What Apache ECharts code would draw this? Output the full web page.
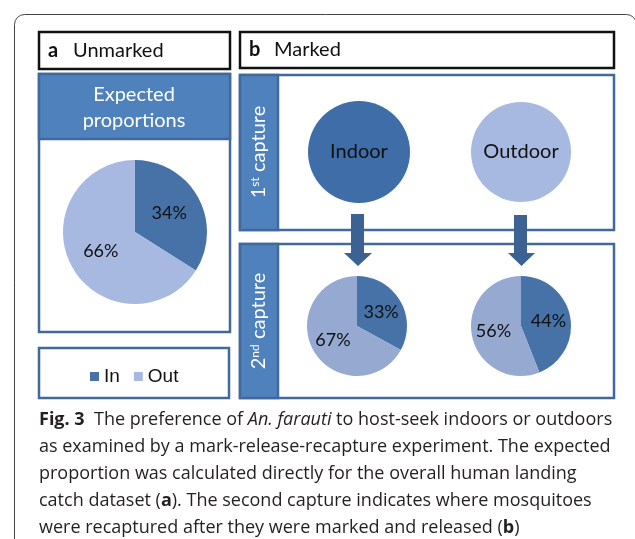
<!DOCTYPE html>
<html>
<head>
<meta charset="utf-8">
<script src="https://cdn.jsdelivr.net/npm/echarts@6/dist/echarts.min.js"></script>
<style>
  html, body { margin: 0; padding: 0; background: #fff; }
  #chart { width: 635px; height: 539px; }
</style>
</head>
<body>
<div id="chart"></div>
<script>
// data
const sliceNames = ['In', 'Out'];
const expectedValues = [34, 66];      // panel a
const recaptureIndoor = [33, 67];     // 2nd capture below Indoor
const recaptureOutdoor = [44, 56];    // 2nd capture below Outdoor
const firstCapture = ['Indoor', 'Outdoor'];

const dark = '#4672a8';
const lightA = '#a7b9e0';
const lightB = '#95a9d1';
const frameBlue = '#41699b';
const headBlue = '#4f81bd';
const arrowBlue = '#3c6193';

const chart = echarts.init(document.getElementById('chart'));

function pieData(values, light) {
  return sliceNames.map((n, i) => ({
    name: n,
    value: values[i],
    itemStyle: { color: i === 0 ? dark : light }
  }));
}

function pctPie(values, light, center, r) {
  return {
    type: 'pie',
    center: center,
    radius: [0, r],
    startAngle: 90,
    clockwise: true,
    silent: true,
    z: 5,
    itemStyle: { borderWidth: 0 },
    label: {
      show: true,
      position: 'inside',
      formatter: '{c}%',
      color: '#111',
      fontFamily: 'Lato',
      fontSize: 18
    },
    labelLine: { show: false },
    data: pieData(values, light)
  };
}

function circle(name, color, center, r) {
  return {
    type: 'pie',
    center: center,
    radius: [0, r],
    silent: true,
    z: 5,
    label: {
      show: true,
      position: 'center',
      formatter: '{b}',
      color: '#111',
      fontFamily: 'Lato',
      fontSize: 20
    },
    labelLine: { show: false },
    data: [{ name: name, value: 1, itemStyle: { color: color } }]
  };
}

function box(x1, y1, x2, y2, fill, stroke, lw, z) {
  return {
    type: 'rect', z: z || 1,
    shape: { x: x1, y: y1, width: x2 - x1, height: y2 - y1 },
    style: { fill: fill, stroke: stroke, lineWidth: lw }
  };
}

function txt(text, x, y, size, opts) {
  return Object.assign({
    type: 'text', z: 10,
    style: Object.assign({
      text: text, x: x, y: y,
      fontFamily: 'Lato', fontSize: size,
      fill: '#111', align: 'left', verticalAlign: 'middle'
    }, opts || {})
  });
}

function arrow(x1, x2, hx1, hx2, yTop, yHead, yTip) {
  const mid = (hx1 + hx2) / 2;
  return {
    type: 'polygon', z: 12,
    shape: { points: [[x1, yTop], [x2, yTop], [x2, yHead], [hx2, yHead], [mid, yTip], [hx1, yHead], [x1, yHead]] },
    style: { fill: arrowBlue }
  };
}

function sideLabel(num, sup, cx, cy) {
  return {
    type: 'text', z: 10,
    x: cx, y: cy, rotation: Math.PI / 2,
    style: {
      text: '{n|' + num + '}{s|' + sup + '}{n| capture}',
      align: 'center', verticalAlign: 'middle',
      rich: {
        n: { fontFamily: 'Lato', fontSize: 20, fill: '#fff', verticalAlign: 'bottom' },
        s: { fontFamily: 'Lato', fontSize: 12, fill: '#fff', verticalAlign: 'top', padding: [0, 0, 8, 0] }
      }
    }
  };
}

// caption, line by line
const capFont = { fontFamily: 'Open Sans', fontSize: 18, fill: '#231f20' };
const capRich = {
  r: Object.assign({}, capFont),
  b: Object.assign({ fontWeight: 'bold' }, capFont),
  i: Object.assign({ fontStyle: 'italic' }, capFont)
};
const captionLines = [
  '{b|Fig. 3}{r|  The preference of }{i|An. farauti}{r| to host-seek indoors or outdoors}',
  '{r|as examined by a mark-release-recapture experiment. The expected}',
  '{r|proportion was calculated directly for the overall human landing}',
  '{r|catch dataset (}{b|a}{r|). The second capture indicates where mosquitoes}',
  '{r|were recaptured after they were marked and released (}{b|b}{r|)}'
];
const captionY = [420, 447, 474, 501, 528];

const graphics = [
  // outer frame
  { type: 'rect', z: 0, shape: { x: 14.5, y: 14.5, width: 622, height: 600, r: 10 },
    style: { fill: 'none', stroke: '#444', lineWidth: 1 } },
  // title boxes
  box(39, 32, 230, 69, '#fff', '#111', 2.5),
  box(240, 32, 614, 68, '#fff', '#111', 2.5),
  txt('a', 48, 51, 20, { fontWeight: 'bold' }),
  txt('Unmarked', 73, 51, 20),
  txt('b', 249, 50, 20, { fontWeight: 'bold' }),
  txt('Marked', 274, 50, 20),
  // panel a
  box(39, 74, 230, 332, '#fff', frameBlue, 2.5),
  box(39, 74, 230, 139, headBlue, frameBlue, 2.5, 2),
  txt('Expected', 134, 95, 20, { fill: '#fff', align: 'center' }),
  txt('proportions', 134, 121, 20, { fill: '#fff', align: 'center' }),
  // legend box
  box(39, 348, 229, 398, '#fff', frameBlue, 2.5),
  // panel b, 1st capture
  box(240, 75, 614, 230, '#fff', frameBlue, 2.5),
  box(240, 75, 278, 230, headBlue, frameBlue, 2.5, 2),
  sideLabel('1', 'st', 259, 152),
  // panel b, 2nd capture
  box(240, 244, 614, 398, '#fff', frameBlue, 2.5),
  box(240, 244, 278, 398, headBlue, frameBlue, 2.5, 2),
  sideLabel('2', 'nd', 259, 321),
  // arrows
  arrow(351, 364, 344, 372, 214, 253, 266),
  arrow(514, 527, 508, 535, 215, 253, 266)
];

captionLines.forEach((line, k) => {
  graphics.push({
    type: 'text', z: 10,
    style: { text: line, x: 39, y: captionY[k], verticalAlign: 'middle', rich: capRich }
  });
});

chart.setOption({
  animation: false,
  legend: {
    data: sliceNames,
    left: 85,
    top: 362,
    icon: 'rect',
    itemWidth: 9,
    itemHeight: 9,
    itemGap: 14,
    selectedMode: false,
    textStyle: { fontFamily: 'Liberation Sans', fontSize: 19, color: '#111' }
  },
  graphic: { elements: graphics },
  series: [
    pctPie(expectedValues, lightA, [135, 232], 72),
    circle(firstCapture[0], '#3e6da8', [359, 152], 51),
    circle(firstCapture[1], lightA, [521, 152], 50),
    pctPie(recaptureIndoor, lightB, [357, 326], 50),
    pctPie(recaptureOutdoor, lightB, [521, 326], 50)
  ]
});
</script>
</body>
</html>
